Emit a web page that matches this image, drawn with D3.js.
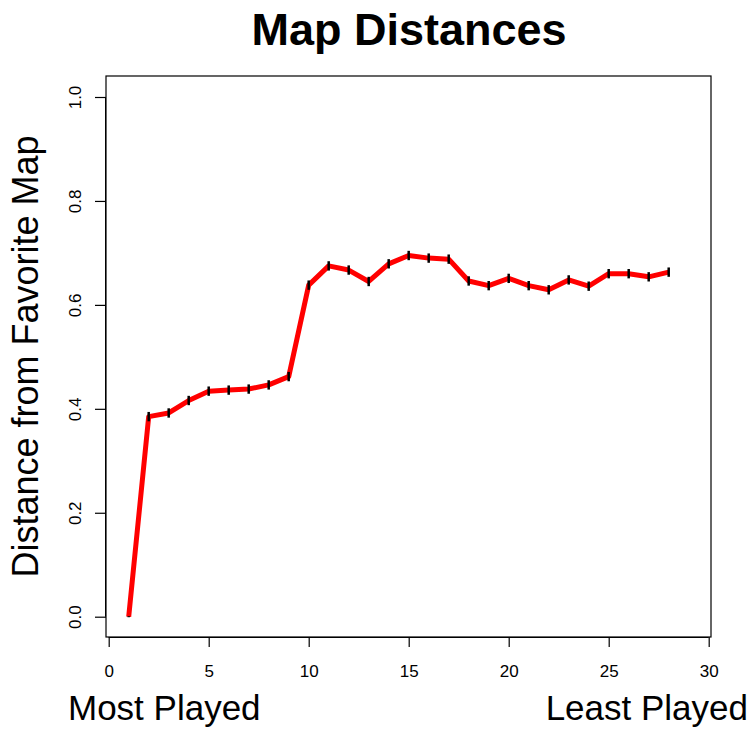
<!DOCTYPE html>
<html>
<head>
<meta charset="utf-8">
<script src="https://cdn.jsdelivr.net/npm/d3@7"></script>
<style>
  html, body { margin: 0; padding: 0; background: #fff; }
  svg { display: block; font-family: "Liberation Sans", Arial, Helvetica, sans-serif; }
</style>
</head>
<body>
<script>
// Map rank (1 = most played) and mean distance from the favourite map
const ranks = d3.range(1, 29);
const distances = [
  0.000, 0.385, 0.392, 0.416, 0.434, 0.436, 0.438, 0.446, 0.462, 0.638,
  0.675, 0.667, 0.645, 0.679, 0.695, 0.690, 0.688, 0.646, 0.637, 0.651,
  0.637, 0.629, 0.648, 0.636, 0.660, 0.660, 0.654, 0.663
];
// Half-length of the error bar at each rank
const errors = [
  0.001, 0.009, 0.009, 0.009, 0.009, 0.009, 0.009, 0.009, 0.009, 0.009,
  0.009, 0.009, 0.009, 0.009, 0.009, 0.009, 0.009, 0.009, 0.009, 0.009,
  0.009, 0.009, 0.009, 0.009, 0.009, 0.009, 0.009, 0.009
];
const xTicks = [0, 5, 10, 15, 20, 25, 30];
const yTicks = [0.0, 0.2, 0.4, 0.6, 0.8, 1.0];

const W = 754, H = 732;
const box = { left: 106, right: 711, top: 76, bottom: 637 };

const svg = d3.select("body").append("svg")
  .attr("width", W).attr("height", H);

const x = d3.scaleLinear().domain([0, 30]).range([108.7, 708.7]);
const y = d3.scaleLinear().domain([0, 1]).range([616.7, 97]);

// Plot frame
svg.append("rect")
  .attr("x", box.left).attr("y", box.top)
  .attr("width", box.right - box.left).attr("height", box.bottom - box.top)
  .attr("fill", "none").attr("stroke", "#000").attr("stroke-width", 1.2);

// X axis
const xAxis = svg.append("g")
  .attr("transform", `translate(0,${box.bottom})`)
  .call(d3.axisBottom(x).tickValues(xTicks).tickSize(10)
    .tickFormat(d3.format("d")));
xAxis.select(".domain")
  .attr("d", `M${x(0)},0.5H${x(30)}`).attr("stroke", "#000");
xAxis.selectAll(".tick line").attr("stroke", "#000").attr("stroke-width", 1.2);
xAxis.selectAll(".tick text")
  .attr("font-size", 17).attr("fill", "#000")
  .attr("font-family", "Liberation Sans, Arial, sans-serif")
  .attr("y", 40).attr("dy", null);

// Y axis with labels turned parallel to the axis
const yAxis = svg.append("g")
  .attr("transform", `translate(${box.left},0)`)
  .call(d3.axisLeft(y).tickValues(yTicks).tickSize(11)
    .tickFormat(d3.format(".1f")));
yAxis.select(".domain")
  .attr("d", `M-0.5,${y(0)}V${y(1)}`).attr("stroke", "#000");
yAxis.selectAll(".tick line").attr("stroke", "#000").attr("stroke-width", 1.2);
yAxis.selectAll(".tick text")
  .attr("font-size", 17).attr("fill", "#000")
  .attr("font-family", "Liberation Sans, Arial, sans-serif")
  .attr("x", null).attr("dy", null)
  .attr("text-anchor", "middle")
  .attr("transform", "translate(-25,0) rotate(-90)");

// Distance line
const line = d3.line()
  .x((d, i) => x(ranks[i]))
  .y(d => y(d));
svg.append("path")
  .datum(distances)
  .attr("d", line)
  .attr("fill", "none")
  .attr("stroke", "#ff0000")
  .attr("stroke-width", 5)
  .attr("stroke-linejoin", "round");

// Error bars
svg.append("g").selectAll("line")
  .data(distances)
  .join("line")
  .attr("x1", (d, i) => x(ranks[i]))
  .attr("x2", (d, i) => x(ranks[i]))
  .attr("y1", (d, i) => y(d - errors[i]))
  .attr("y2", (d, i) => y(d + errors[i]))
  .attr("stroke", "#000")
  .attr("stroke-width", 2.5);

// Title and axis titles
svg.append("text")
  .attr("x", 409).attr("y", 45)
  .attr("text-anchor", "middle")
  .attr("font-size", 45).attr("font-weight", "bold")
  .text("Map Distances");

svg.append("text")
  .attr("transform", `translate(38,${(box.top + box.bottom) / 2}) rotate(-90)`)
  .attr("text-anchor", "middle")
  .attr("font-size", 36)
  .text("Distance from Favorite Map");

svg.append("text")
  .attr("x", 68).attr("y", 720)
  .attr("font-size", 35)
  .text("Most Played");

svg.append("text")
  .attr("x", 748).attr("y", 720)
  .attr("text-anchor", "end")
  .attr("font-size", 35)
  .text("Least Played");
</script>
</body>
</html>
